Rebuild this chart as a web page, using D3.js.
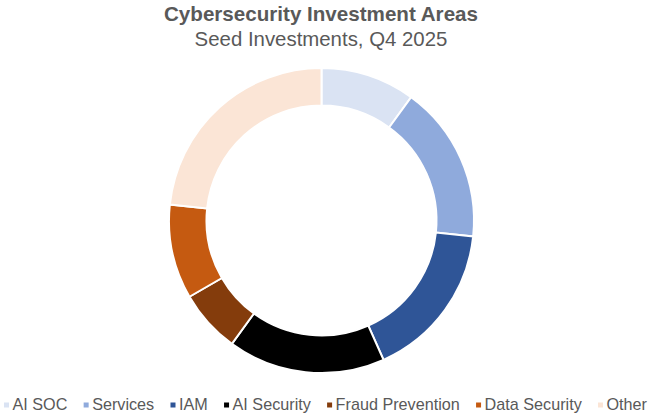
<!DOCTYPE html>
<html><head><meta charset="utf-8">
<script src="https://cdn.jsdelivr.net/npm/d3@7"></script>
<style>html,body{margin:0;padding:0;background:#fff;}svg{display:block;font-family:"Liberation Sans",Arial,sans-serif;}</style>
</head><body>
<svg id="c" width="650" height="417"></svg>
<script>
const categories = ["AI SOC","Services","IAM","AI Security","Fraud Prevention","Data Security","Other"];
const values = [3,5,5,5,2,3,7];
const colors = ["#DAE3F3","#8FAADC","#2F5597","#000000","#843C0C","#C55A11","#FBE5D6"];
const titleText = "Cybersecurity Investment Areas";
const subtitleText = "Seed Investments, Q4 2025";

const svg = d3.select("#c");
const W = 650;
svg.append("text").attr("x",321).attr("y",21).attr("text-anchor","middle")
  .attr("font-size",20.6).attr("font-weight","bold").attr("fill","#595959").text(titleText);
svg.append("text").attr("x",321).attr("y",46).attr("text-anchor","middle")
  .attr("font-size",20.4).attr("fill","#595959").text(subtitleText);

const cx = 321.5, cy = 220.5, rOut = 152.5, rIn = 115;
const pie = d3.pie().sort(null).value(d=>d)(values);
const arc = d3.arc().innerRadius(rIn).outerRadius(rOut);
const color = d3.scaleOrdinal().domain(categories).range(colors);
svg.append("g").attr("transform",`translate(${cx},${cy})`)
  .selectAll("path").data(pie).join("path")
  .attr("d",arc).attr("fill",(d,i)=>color(categories[i]))
  .attr("stroke","#fff").attr("stroke-width",2);

// legend
const lg = svg.append("g");
const items = lg.selectAll("g").data(categories).join("g");
items.append("rect").attr("width",5).attr("height",5).attr("y",-7)
  .attr("fill",d=>color(d));
items.append("text").attr("x",8.5).attr("y",0).attr("font-size",16.2)
  .attr("fill","#595959").text(d=>d);
let widths = [];
items.each(function(){ widths.push(this.querySelector("text").getComputedTextLength()+8.5); });
const span = 643;
const gap = (span - d3.sum(widths)) / (widths.length-1);
let x = (W - span)/2 + 0.5;
items.each(function(d,i){ d3.select(this).attr("transform",`translate(${x},409.5)`); x += widths[i]+gap; });
</script>
</body></html>
